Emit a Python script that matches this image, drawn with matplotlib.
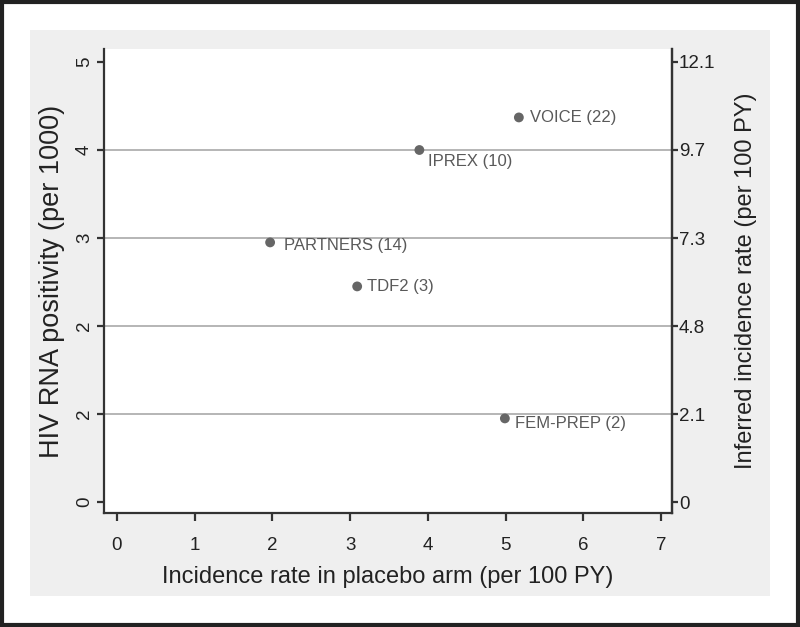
"""
Placebo-arm incidence vs HIV RNA positivity, with inferred incidence on the right axis.
"""

import matplotlib.pyplot as plt
from matplotlib.patches import Rectangle

plt.rcParams["font.family"] = ["Liberation Sans Narrow", "Liberation Sans", "DejaVu Sans"]

# Trial values
TRIALS = ["VOICE (22)", "IPREX (10)", "PARTNERS (14)", "TDF2 (3)", "FEM-PREP (2)"]
PLACEBO_RATE = [5.17, 3.89, 1.97, 3.09, 4.99]
RNA_POSITIVITY = [4.37, 4.0, 2.95, 2.45, 0.95]
LABEL_DY = [0, -8, -2, 0, -4]  # label nudge, points
LABEL_DX = [8, 6, 10, 7, 7]

X_TICKS = [0, 1, 2, 3, 4, 5, 6, 7]
Y_TICKS = [0, 1, 2, 3, 4, 5]
Y_TICK_LABELS = ["0", "2", "2", "3", "4", "5"]
RIGHT_TICK_LABELS = ["0", "2.1", "4.8", "7.3", "9.7", "12.1"]

PANEL = "#efefef"
AXIS = "#333333"
MARKER = "#666666"
LABEL = "#595959"


def main():
    fig = plt.figure(figsize=(8, 6.27), dpi=100, facecolor="white")

    # Grey plot region and outer frame
    fig.add_artist(Rectangle((0.0375, 0.0494), 0.925, 0.9026,
                             transform=fig.transFigure, facecolor=PANEL,
                             edgecolor="none", zorder=-2))
    fig.add_artist(Rectangle((0.002, 0.003), 0.996, 0.994,
                             transform=fig.transFigure, facecolor="none",
                             edgecolor="#222222", linewidth=3, zorder=5))

    ax = fig.add_axes([0.13, 0.1818, 0.71, 0.7401])
    ax.set_facecolor("white")
    ax.set_xlim(-0.167, 7.14)
    ax.set_ylim(-0.125, 5.148)

    for y in Y_TICKS[1:-1]:
        ax.axhline(y, color="#b0b0b0", linewidth=1.3, zorder=1)

    ax.scatter(PLACEBO_RATE, RNA_POSITIVITY, s=50, color=MARKER,
               edgecolors="none", zorder=3)
    for name, x, y, dx, dy in zip(TRIALS, PLACEBO_RATE, RNA_POSITIVITY,
                                  LABEL_DX, LABEL_DY):
        ax.annotate(name, (x, y), xytext=(dx, dy), textcoords="offset points",
                    ha="left", va="center", fontsize=12, color=LABEL,
                    family=["Liberation Sans", "DejaVu Sans"])

    ax.spines["top"].set_visible(False)
    for side in ("left", "bottom", "right"):
        ax.spines[side].set_color(AXIS)
        ax.spines[side].set_linewidth(1.6)

    ax.set_xticks(X_TICKS)
    ax.set_yticks(Y_TICKS)
    ax.set_yticklabels(Y_TICK_LABELS, rotation=90, va="center")
    ax.tick_params(axis="x", length=6, width=1.6, color=AXIS, labelsize=13.5,
                   pad=11, labelcolor="#222222")
    ax.tick_params(axis="y", length=5, width=1.6, color=AXIS, labelsize=13.5,
                   pad=3, labelcolor="#222222")
    ax.set_xlabel("Incidence rate in placebo arm (per 100 PY)", fontsize=17,
                  labelpad=9, color="#222222")
    ax.set_ylabel("HIV RNA positivity (per 1000)", fontsize=19.5,
                  labelpad=8, color="#222222")

    ax2 = ax.twinx()
    ax2.set_ylim(ax.get_ylim())
    ax2.set_yticks(Y_TICKS)
    ax2.set_yticklabels(RIGHT_TICK_LABELS)
    ax2.tick_params(axis="y", length=4, width=1.6, color=AXIS, labelsize=13.5,
                    pad=1, labelcolor="#222222")
    for side in ("top", "left", "bottom"):
        ax2.spines[side].set_visible(False)
    ax2.spines["right"].set_color(AXIS)
    ax2.spines["right"].set_linewidth(1.6)
    ax2.set_ylabel("Inferred incidence rate (per 100 PY)", fontsize=17,
                   labelpad=14, color="#222222")

    fig.savefig("out.png", dpi=100, facecolor="white")


if __name__ == "__main__":
    main()
